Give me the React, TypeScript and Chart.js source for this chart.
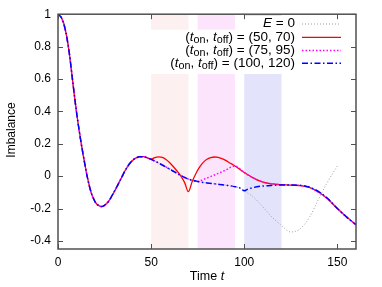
import React, { useEffect, useRef } from "react";
import { Chart, registerables } from "chart.js";
Chart.register(...registerables);

// ---- data ----
const tCommon = [0, 2, 4, 6, 8, 10, 12, 14, 16, 18, 20, 22, 23.5, 25, 27, 30, 32, 34, 36, 38, 40, 42, 44, 46, 48, 50];
const vCommon = [1, 0.975, 0.9, 0.765, 0.575, 0.39, 0.235, 0.1, -0.02, -0.108, -0.16, -0.183, -0.188, -0.18, -0.158, -0.1, -0.057, -0.012, 0.033, 0.07, 0.097, 0.113, 0.12, 0.12, 0.113, 0.104];

const tFree = [55, 60, 65, 70, 75, 80, 85, 90, 95, 98, 100];
const vFree = [0.075, 0.043, 0.01, -0.018, -0.033, -0.042, -0.049, -0.056, -0.065, -0.075, -0.09];

const tGrayTail = [105, 110, 115, 120, 125, 130, 135, 140, 145, 150];
const vGrayTail = [-0.13, -0.19, -0.254, -0.305, -0.345, -0.325, -0.254, -0.14, -0.03, 0.063];

const tRed = [52, 54, 56, 58, 60, 62, 64, 66, 68, 70, 72, 74, 76, 78, 80, 82, 84, 86, 88, 90, 92, 95];
const vRed = [0.115, 0.119, 0.116, 0.103, 0.083, 0.058, 0.03, 0.0, -0.04, -0.096, -0.035, 0.015, 0.055, 0.085, 0.104, 0.114, 0.118, 0.116, 0.108, 0.097, 0.083, 0.063];

const tMagenta = [78, 80, 85, 90, 95];
const vMagenta = [-0.022, -0.012, 0.012, 0.037, 0.063];

const tLate = [100, 105, 110, 115, 120, 125, 130, 135, 140, 145, 150, 155, 160];
const vLate = [0.022, -0.012, -0.037, -0.048, -0.053, -0.056, -0.058, -0.07, -0.1, -0.143, -0.2, -0.253, -0.3];

const tBlueTail = [102, 105, 110, 115, 120, 125, 130, 133, 135, 140, 145, 150, 155, 160];
const vBlueTail = [-0.08, -0.07, -0.061, -0.057, -0.055, -0.055, -0.057, -0.062, -0.068, -0.095, -0.14, -0.2, -0.253, -0.3];

const bands = [
  [50, 70, "#fdf0f0"],
  [75, 95, "#fde4fd"],
  [100, 120, "#e3e3fb"],
] as const;

const xTicks = [0, 50, 100, 150];
const yTicks = [-0.4, -0.2, 0, 0.2, 0.4, 0.6, 0.8, 1];
const yTickLabels = ["-0.4", "-0.2", "0", "0.2", "0.4", "0.6", "0.8", "1"];

const legendPairs = ["(50, 70)", "(75, 95)", "(100, 120)"];

const pts = (ts: number[], vs: number[]) => ts.map((t, i) => ({ x: t, y: vs[i] }));

const FONT = "'Liberation Sans', Arial, sans-serif";

export default function App() {
  const ref = useRef<HTMLCanvasElement | null>(null);
  useEffect(() => {
    document.body.style.margin = "0";
    const canvas = ref.current!;
    const grayData = [...pts(tCommon, vCommon), ...pts(tFree, vFree), ...pts(tGrayTail, vGrayTail)];
    const redData = [...pts(tCommon, vCommon), ...pts(tRed, vRed), ...pts(tLate, vLate)];
    const magData = [
      ...pts(tCommon, vCommon),
      ...pts(tFree.slice(0, 5), vFree.slice(0, 5)),
      ...pts(tMagenta, vMagenta),
      ...pts(tLate, vLate),
    ];
    const blueData = [...pts(tCommon, vCommon), ...pts(tFree, vFree), ...pts(tBlueTail, vBlueTail)];

    const decor = {
      id: "decor",
      beforeDatasetsDraw(chart: any) {
        const { ctx, chartArea: a, scales } = chart;
        const xs = scales.x;
        ctx.save();
        for (const [s, e, c] of bands) {
          const x0 = xs.getPixelForValue(s);
          const x1 = xs.getPixelForValue(e);
          ctx.fillStyle = c;
          ctx.fillRect(x0, a.top, x1 - x0, a.bottom - a.top);
        }
        ctx.fillStyle = "#fff";
        ctx.fillRect(239, 16, 112, 14);
        ctx.fillRect(146, 29.7, 205, 44.3);
        ctx.restore();
      },
      afterDraw(chart: any) {
        const { ctx, chartArea: a, scales } = chart;
        const xs = scales.x;
        const ys = scales.y;
        ctx.save();
        ctx.strokeStyle = "#505050";
        ctx.lineWidth = 1;
        const L = 5;
        ctx.beginPath();
        for (const v of xTicks) {
          const x = Math.round(xs.getPixelForValue(v)) + 0.5;
          ctx.moveTo(x, a.bottom);
          ctx.lineTo(x, a.bottom - L);
          ctx.moveTo(x, a.top);
          ctx.lineTo(x, a.top + L);
        }
        for (const v of yTicks) {
          const y = Math.round(ys.getPixelForValue(v)) + 0.5;
          ctx.moveTo(a.left, y);
          ctx.lineTo(a.left + L, y);
          ctx.moveTo(a.right, y);
          ctx.lineTo(a.right - L, y);
        }
        ctx.stroke();
        ctx.lineWidth = 1.5;
        ctx.strokeStyle = "#505050";
        ctx.strokeRect(a.left, a.top, a.right - a.left, a.bottom - a.top);

        // axis titles
        ctx.fillStyle = "#000";
        ctx.textBaseline = "middle";
        const cx = (a.left + a.right) / 2;
        ctx.font = `12.5px ${FONT}`;
        const w1 = ctx.measureText("Time ").width;
        ctx.font = `italic 12.5px ${FONT}`;
        const w2 = ctx.measureText("t").width;
        let sx = cx - (w1 + w2) / 2;
        ctx.textAlign = "left";
        ctx.font = `12.5px ${FONT}`;
        ctx.fillText("Time ", sx, 277);
        ctx.font = `italic 12.5px ${FONT}`;
        ctx.fillText("t", sx + w1, 277);

        ctx.save();
        ctx.translate(12, 130);
        ctx.rotate(-Math.PI / 2);
        ctx.textAlign = "center";
        ctx.font = `12px ${FONT}`;
        ctx.fillText("Imbalance", 0, 0);
        ctx.restore();

        // legend
        type Seg = { s: string; f: string; dy: number };
        const N = `13.5px ${FONT}`;
        const I = `italic 13.5px ${FONT}`;
        const S = `10.8px ${FONT}`;
        const rows: Seg[][] = [
          [
            { s: "E", f: I, dy: 0 },
            { s: " = 0", f: N, dy: 0 },
          ],
          ...legendPairs.map((p) => [
            { s: "(", f: N, dy: 0 },
            { s: "t", f: I, dy: 0 },
            { s: "on", f: S, dy: 3 },
            { s: ", ", f: N, dy: 0 },
            { s: "t", f: I, dy: 0 },
            { s: "off", f: S, dy: 3 },
            { s: ") = " + p, f: N, dy: 0 },
          ]),
        ];
        const rowY = [23.5, 36.8, 50, 62.8];
        const rightX = 295;
        ctx.textAlign = "left";
        rows.forEach((segs, i) => {
          let total = 0;
          for (const sg of segs) {
            ctx.font = sg.f;
            total += ctx.measureText(sg.s).width;
          }
          let x = rightX - total;
          for (const sg of segs) {
            ctx.font = sg.f;
            ctx.fillText(sg.s, x, rowY[i] + sg.dy);
            x += ctx.measureText(sg.s).width;
          }
        });
        const styles = [
          { c: "#a0a0a0", w: 1, d: [1, 2] },
          { c: "#ff0000", w: 1.3, d: [] },
          { c: "#ff00ff", w: 1.5, d: [1.5, 2] },
          { c: "#0000ff", w: 1.5, d: [6, 2.5, 1.5, 2.5] },
        ];
        styles.forEach((st, i) => {
          ctx.beginPath();
          ctx.strokeStyle = st.c;
          ctx.lineWidth = st.w;
          ctx.setLineDash(st.d);
          ctx.moveTo(302, rowY[i] + 0.5);
          ctx.lineTo(341, rowY[i] + 0.5);
          ctx.stroke();
        });
        ctx.setLineDash([]);
        ctx.restore();
      },
    };

    const chart = new Chart(canvas, {
      type: "line",
      data: {
        datasets: [
          {
            label: "E = 0",
            data: grayData,
            borderColor: "#a0a0a0",
            borderWidth: 1,
            borderDash: [1, 2],
            pointRadius: 0,
            order: 4,
            cubicInterpolationMode: "monotone",
          },
          {
            label: "(50, 70)",
            data: redData,
            borderColor: "#ff0000",
            borderWidth: 1.3,
            pointRadius: 0,
            order: 3,
            cubicInterpolationMode: "monotone",
          },
          {
            label: "(75, 95)",
            data: magData,
            borderColor: "#ff00ff",
            borderWidth: 1.5,
            borderDash: [1.5, 2],
            pointRadius: 0,
            order: 2,
            cubicInterpolationMode: "monotone",
          },
          {
            label: "(100, 120)",
            data: blueData,
            borderColor: "#0000ff",
            borderWidth: 1.5,
            borderDash: [6, 2.5, 1.5, 2.5],
            pointRadius: 0,
            order: 1,
            cubicInterpolationMode: "monotone",
          },
        ],
      },
      options: {
        responsive: false,
        animation: false,
        events: [],
        layout: { padding: { left: 0, top: 12, right: 26, bottom: 0 } },
        plugins: { legend: { display: false }, tooltip: { enabled: false }, title: { display: false } },
        scales: {
          x: {
            type: "linear",
            min: 0,
            max: 160,
            grid: { display: false, drawTicks: false },
            border: { display: false },
            ticks: { color: "#000", font: { family: FONT, size: 12 }, padding: 6, maxRotation: 0 },
            afterBuildTicks: (s: any) => {
              s.ticks = xTicks.map((v) => ({ value: v }));
            },
            afterFit: (s: any) => {
              s.height = 38;
            },
          },
          y: {
            type: "linear",
            min: -0.45,
            max: 1,
            grid: { display: false, drawTicks: false },
            border: { display: false },
            ticks: {
              color: "#000",
              font: { family: FONT, size: 12 },
              padding: 7,
              callback: (v: any) => {
                const i = yTicks.findIndex((t) => Math.abs(t - Number(v)) < 1e-6);
                return i >= 0 ? yTickLabels[i] : "";
              },
            },
            afterBuildTicks: (s: any) => {
              s.ticks = yTicks.map((v) => ({ value: v }));
            },
            afterFit: (s: any) => {
              s.width = 58;
            },
          },
        },
      },
      plugins: [decor],
    });
    return () => chart.destroy();
  }, []);
  return (
    <div style={{ position: "absolute", left: 0, top: 0 }}>
      <canvas ref={ref} width={382} height={287} style={{ display: "block" }} />
    </div>
  );
}
